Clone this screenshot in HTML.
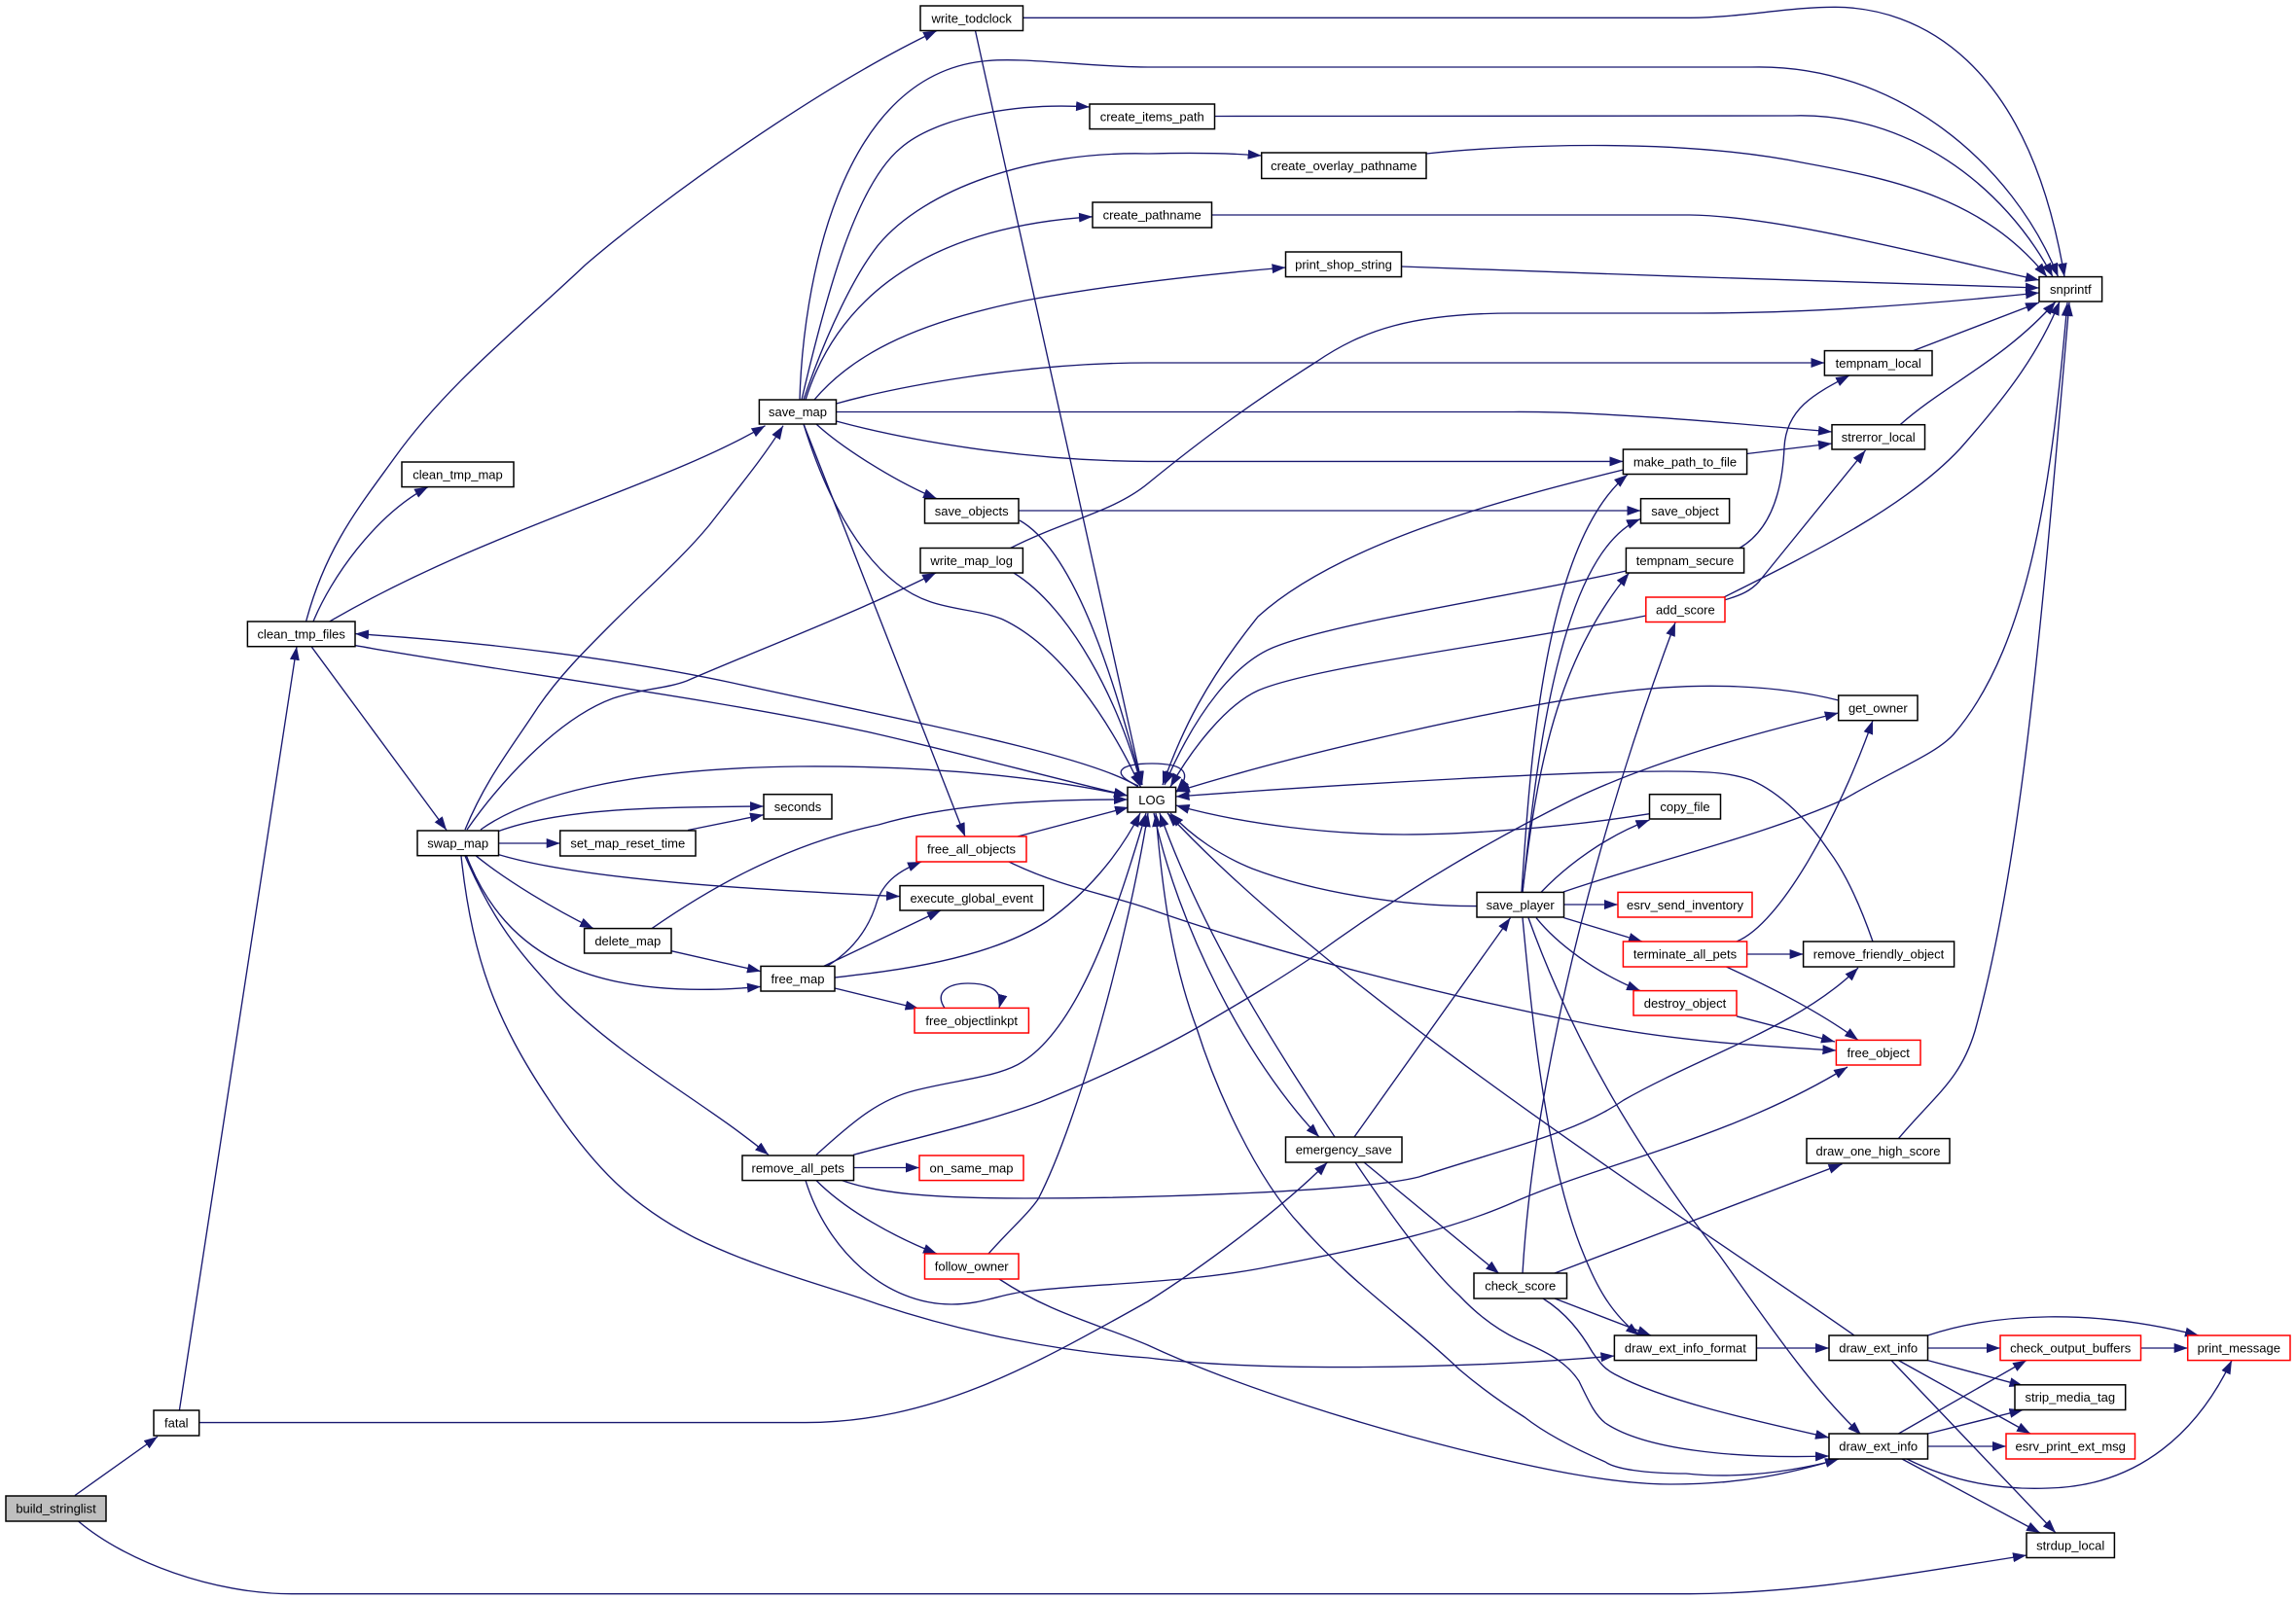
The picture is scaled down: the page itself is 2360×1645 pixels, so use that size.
<!DOCTYPE html>
<html><head><meta charset="utf-8"><style>
html,body{margin:0;padding:0;background:#fff}
svg{display:block}
.e path{fill:none;stroke:#191970;stroke-width:1.35;marker-end:url(#a)}
.n rect{fill:#fff;stroke:#000;stroke-width:1.5}
.r rect{fill:#fff;stroke:#f00;stroke-width:1.5}
text{font-family:"Liberation Sans",sans-serif;font-size:13px;fill:#000;text-anchor:middle}
</style></head><body>
<svg xmlns="http://www.w3.org/2000/svg" width="2360" height="1645" viewBox="0 0 2360 1645">
<defs><marker id="a" markerUnits="userSpaceOnUse" markerWidth="15" markerHeight="11" refX="14" refY="5" orient="auto"><path d="M0,0L14,5L0,10z" fill="#191970"/></marker></defs>
<g class="e">
<path d="M77,1537.5L162,1477"/>
<path d="M80.5,1564C130,1606 220,1638.7 300,1638.7L1737,1638.7C1850,1638 1950,1620 2083,1599"/>
<path d="M184.4,1450L305,664.7"/>
<path d="M204.7,1462.6L828,1462.6C960,1462 1060,1405 1180,1338C1240,1300 1320,1240 1364.4,1195"/>
<path d="M314.6,639C335,562 370,520 406,470C460,395 530,340 602,272C680,205 840,90 963,31.5"/>
<path d="M322,639C340,595 385,530 440,500.6"/>
<path d="M338.7,639C500,545 680,500 786.5,437.7"/>
<path d="M365,663.6C500,688 750,720 903,755C990,775 1090,802 1159,818"/>
<path d="M1170,809C1120,775 900,735 752.6,702C640,678 500,660 365,651.6"/>
<path d="M320,664.7L459,853.5"/>
<path d="M822,411C825,300 860,80 1010,63C1050,58 1120,69 1180,69L1800,69C1950,65 2070,170 2115.5,284.6"/>
<path d="M824,411C850,300 880,190 926,152C960,122 1040,105 1120,110"/>
<path d="M826,411C850,340 880,280 903,251.6C950,195 1060,155 1180,158C1220,157 1260,157 1296.7,160"/>
<path d="M828,411C855,325 930,235 1123,222.8"/>
<path d="M837,411C880,360 950,330 1053.6,309C1140,293 1240,282 1321.5,275"/>
<path d="M859.5,415C920,398 1050,373 1180,373L1875.4,373"/>
<path d="M859.5,423.5L1556,423.5C1650,423 1780,435 1883,444"/>
<path d="M859.5,433C930,452 1050,474 1180,474.4L1668.4,474.4"/>
<path d="M839,436C865,460 920,495 963,512.7"/>
<path d="M826,436C855,530 900,600 956,618.6C980,627 1010,628 1031,637C1090,665 1140,740 1172.6,809.4"/>
<path d="M826,436L992,860"/>
<path d="M1051,18.3L1737,18.3C1790,18 1840,7 1887,7.3C1970,8 2085,60 2122,284.6"/>
<path d="M1002.5,31.5L1174,807"/>
<path d="M1248.5,119.5L1842,119C1960,115 2060,190 2110,284.6"/>
<path d="M1466,158C1540,150 1720,140 1857,168C1950,185 2040,205 2104,284.6"/>
<path d="M1245.5,221L1737,221C1830,222 1990,265 2096,288"/>
<path d="M1440.4,274C1650,282 1900,290 2096,296"/>
<path d="M1038.6,563.5C1095,535 1145,526 1180,497C1240,448 1290,412 1353,372C1400,340 1450,322 1556,322L1744,322C1860,322 1980,313 2096,301"/>
<path d="M1042,589C1100,625 1150,720 1173,807"/>
<path d="M1047,525L1686.5,525"/>
<path d="M1048,535C1110,570 1150,720 1174,807"/>
<path d="M1966.5,360.6L2096,311"/>
<path d="M1788,563.5C1820,545 1832,505 1834,460C1836,420 1865,405 1901,386"/>
<path d="M1953,436.7C2000,395 2060,370 2113,310"/>
<path d="M1795.6,466.5L1883,456"/>
<path d="M1668.4,483C1560,510 1380,555 1293,634C1240,700 1215,750 1195,807"/>
<path d="M1671.4,587C1560,612 1370,640 1308,666C1270,682 1230,730 1197,807"/>
<path d="M1691.8,633C1560,660 1350,685 1293,710C1260,725 1225,770 1203,809"/>
<path d="M1772,617C1790,612 1800,607 1808,598L1917.5,463"/>
<path d="M1772,614C1870,565 1960,520 2015,461C2060,410 2095,365 2117,310"/>
<path d="M1889.7,720C1830,705 1750,700 1660,712C1560,725 1350,770 1209,814"/>
<path d="M1695.5,836.7C1600,852 1500,858 1443,858C1370,858 1280,848 1208.6,828"/>
<path d="M1925,968C1910,925 1895,895 1880,875C1860,845 1830,815 1800,802C1780,795 1760,793 1713,793C1620,793 1400,805 1208.6,819"/>
<path d="M1518,931.6C1440,932 1350,917 1287,893C1255,880 1225,860 1203,836"/>
<path d="M1607.5,930L1663,930"/>
<path d="M1584,917.4C1610,890 1650,860 1695.5,843"/>
<path d="M877,1187.4C940,1170 1010,1155 1069,1133C1130,1108 1180,1085 1230,1057C1290,1022 1310,1010 1352,982C1430,925 1520,870 1616.5,822C1700,782 1800,755 1889.7,733"/>
<path d="M1607,917C1700,885 1810,860 1895,822C1950,790 1990,775 2008,755C2090,660 2110,480 2125,311"/>
<path d="M1564,917C1572,800 1585,560 1673,488"/>
<path d="M1565,917C1578,800 1600,570 1686,533.6"/>
<path d="M1565,917C1580,790 1600,680 1674.5,589"/>
<path d="M1607.5,943.6L1688,968"/>
<path d="M1579,943.6C1600,970 1640,1000 1686,1018.6"/>
<path d="M1565,943.6C1575,1050 1590,1200 1628,1290C1640,1320 1655,1350 1685,1373"/>
<path d="M1571,943.6C1620,1080 1690,1190 1767,1290C1810,1350 1860,1425 1913,1475"/>
<path d="M1785,968C1830,950 1890,840 1925,740.7"/>
<path d="M1795.6,981L1853.6,981"/>
<path d="M1774.5,994C1820,1015 1870,1040 1910,1069.4"/>
<path d="M1785,1044.8L1886,1071"/>
<path d="M1046,860L1160,830"/>
<path d="M1037,886C1090,912 1140,920 1180,934C1270,966 1440,1015 1631.6,1052.6C1720,1070 1800,1075 1887.4,1080"/>
<path d="M478,853C500,800 525,770 553,727C575,695 600,670 630,640C665,605 700,575 729,540C760,500 785,470 805,437.7"/>
<path d="M480,853C510,810 570,740 630,718C660,708 685,708 706,700C780,668 880,630 962,589"/>
<path d="M494,853C540,820 640,790 821,788C950,787 1060,797 1159,818"/>
<path d="M512.5,854.5C580,830 680,830 785,829"/>
<path d="M512.5,867L575.7,867"/>
<path d="M707,853.5L785,837.7"/>
<path d="M512.5,878.6C600,905 780,915 925,921.6"/>
<path d="M489,879.7C520,905 570,935 610,954.6"/>
<path d="M479.4,879.7C520,985 610,1030 782,1014.4"/>
<path d="M478,880C510,955 540,985 572,1021C640,1090 720,1130 790,1187.4"/>
<path d="M474,880C485,985 510,1050 564.4,1131C610,1200 650,1240 715,1273C780,1305 850,1322 903,1341C990,1370 1090,1390 1180,1396C1290,1410 1500,1408 1659.4,1394"/>
<path d="M670,954.6C720,920 800,870 903,848C980,825 1080,822 1159,822"/>
<path d="M690,977.7L782,998.6"/>
<path d="M850,993.4C880,975 895,950 902,925C910,905 925,895 947,886"/>
<path d="M846.7,993.4L967,936"/>
<path d="M858,1005C900,1000 1010,990 1076.5,947C1115,920 1150,880 1172,836"/>
<path d="M858,1016L944.5,1037"/>
<path d="M971,1036.4C960,1020 975,1011 995,1011C1015,1011 1032,1017 1027,1036.4"/>
<path d="M839,1187.4C880,1150 905,1130 941,1121C985,1110 1020,1108 1046,1094.6C1110,1060 1150,930 1178,836"/>
<path d="M877.5,1200.5L945,1200.5"/>
<path d="M865.5,1213.6C900,1226 950,1232 1053.6,1232C1180,1232 1400,1225 1458.5,1210C1550,1180 1620,1165 1669,1131C1750,1085 1850,1055 1910,995"/>
<path d="M839,1213.6C870,1245 920,1272 963,1289"/>
<path d="M828,1213.6C850,1285 910,1341 978,1341C1010,1341 1030,1330 1053.6,1328C1110,1320 1220,1320 1308,1301.6C1420,1280 1490,1265 1556,1236C1650,1195 1780,1170 1899,1097"/>
<path d="M1016,1289C1040,1262 1055,1250 1067,1233C1110,1150 1160,960 1180,836"/>
<path d="M1027,1315C1080,1350 1125,1360 1180,1383C1270,1425 1400,1465 1500,1490C1590,1512 1660,1526 1717,1526C1790,1526 1840,1515 1890,1500"/>
<path d="M1186,836C1210,950 1280,1090 1356,1169"/>
<path d="M1372,1169C1320,1090 1240,970 1192,836"/>
<path d="M1880,1503C1830,1515 1780,1520 1733,1515C1690,1515 1660,1510 1650,1503C1620,1490 1590,1475 1567,1457C1540,1440 1520,1425 1500,1408C1450,1360 1390,1320 1337,1260C1290,1210 1250,1120 1230,1057C1205,990 1195,920 1188,836"/>
<path d="M1906,1373C1760,1270 1380,1030 1200,836"/>
<path d="M1393,1195C1430,1250 1470,1305 1500,1332C1515,1348 1535,1365 1560,1377C1590,1390 1610,1400 1623,1420C1635,1445 1640,1455 1650,1463C1690,1490 1780,1500 1880,1497"/>
<path d="M1586,1335C1610,1350 1625,1370 1636.7,1390C1645,1402 1650,1408 1660,1413C1710,1440 1800,1460 1880,1478"/>
<path d="M1598,1335L1697,1373"/>
<path d="M1402,1195L1541,1309.5"/>
<path d="M1392,1169L1552.5,943.6"/>
<path d="M1565,1309C1575,1140 1625,900 1722,640"/>
<path d="M1598,1309L1893.5,1196.8"/>
<path d="M1951.4,1170.6C1990,1125 2015,1110 2030,1060C2080,880 2100,620 2127,311"/>
<path d="M1805.4,1386L1880,1386"/>
<path d="M1981.5,1386L2056,1386"/>
<path d="M2200.5,1386L2248.7,1386"/>
<path d="M1981.5,1373C2050,1350 2150,1345 2260,1373"/>
<path d="M1981.5,1398.6L2079.5,1424.8"/>
<path d="M1951.4,1398.6L2087,1474"/>
<path d="M1944,1398.6L2113,1576"/>
<path d="M1951.4,1474L2083,1398.6"/>
<path d="M1981.5,1474L2079.5,1449.5"/>
<path d="M1981.5,1487L2062,1487"/>
<path d="M1960,1500C2010,1525 2060,1532 2105.7,1530C2200,1528 2260,1470 2294,1398.6"/>
<path d="M1955,1500L2097,1576"/>
<path d="M1170,808C1140,795 1150,785 1184,785C1218,785 1226,795 1209,814"/>
</g>
<g class="n">
<rect x="946" y="6" width="105.5" height="25.5"/><text x="998.7" y="23.5">write_todclock</text>
<rect x="1120" y="107" width="128.5" height="25.6"/><text x="1184.2" y="124.5">create_items_path</text>
<rect x="1296.7" y="157" width="169.3" height="26.5"/><text x="1381.3" y="175">create_overlay_pathname</text>
<rect x="1123" y="208" width="122.5" height="26"/><text x="1184.2" y="225.5">create_pathname</text>
<rect x="1321.5" y="259" width="119" height="25.6"/><text x="1381" y="276.5">print_shop_string</text>
<rect x="2096" y="284.6" width="64.6" height="25.4"/><text x="2128.3" y="302">snprintf</text>
<rect x="780.4" y="411" width="79.1" height="25"/><text x="820" y="428">save_map</text>
<rect x="413" y="475" width="115" height="25.6"/><text x="470.5" y="492.5">clean_tmp_map</text>
<rect x="254.4" y="639" width="110.6" height="25.7"/><text x="309.7" y="656.5">clean_tmp_files</text>
<rect x="950.5" y="512.7" width="96.5" height="25.3"/><text x="998.7" y="530">save_objects</text>
<rect x="946" y="563.5" width="105.4" height="25.5"/><text x="998.7" y="581">write_map_log</text>
<rect x="1875.4" y="360.6" width="110.6" height="25.4"/><text x="1930.7" y="378">tempnam_local</text>
<rect x="1883" y="436.7" width="95.5" height="25.3"/><text x="1930.7" y="454">strerror_local</text>
<rect x="1668.4" y="462" width="127.2" height="25.5"/><text x="1732" y="479.5">make_path_to_file</text>
<rect x="1686.5" y="512.7" width="91.1" height="25.3"/><text x="1732" y="530">save_object</text>
<rect x="1671.4" y="563.5" width="121.2" height="25.5"/><text x="1732" y="581">tempnam_secure</text>
<rect x="1889.7" y="715" width="81.3" height="25.7"/><text x="1930.3" y="732.5">get_owner</text>
<rect x="1159" y="809.4" width="49.6" height="25.6"/><text x="1184" y="827">LOG</text>
<rect x="1695.5" y="816.7" width="73" height="25.3"/><text x="1732" y="834">copy_file</text>
<rect x="785" y="816.7" width="70" height="25.3"/><text x="820" y="834">seconds</text>
<rect x="429" y="854" width="83.5" height="25.7"/><text x="470.7" y="871.5">swap_map</text>
<rect x="575.7" y="854" width="139.3" height="26"/><text x="645.3" y="871.5">set_map_reset_time</text>
<rect x="925" y="910.6" width="147.5" height="25.4"/><text x="998.7" y="928">execute_global_event</text>
<rect x="600.6" y="954.6" width="89.4" height="25.4"/><text x="645.3" y="972">delete_map</text>
<rect x="782" y="993.4" width="76" height="25.6"/><text x="820" y="1011">free_map</text>
<rect x="763" y="1188" width="114.5" height="25.6"/><text x="820.2" y="1205.5">remove_all_pets</text>
<rect x="158" y="1450" width="46.7" height="26"/><text x="181.3" y="1467.5">fatal</text>
<rect x="6" y="1538" width="103" height="26" style="fill:#bfbfbf"/><text x="57.5" y="1555.5">build_stringlist</text>
<rect x="1518" y="917.4" width="89.5" height="25.6"/><text x="1562.7" y="935">save_player</text>
<rect x="1853.6" y="968" width="155" height="26"/><text x="1931" y="985.5">remove_friendly_object</text>
<rect x="1321.5" y="1169" width="119.5" height="26"/><text x="1381.2" y="1186.5">emergency_save</text>
<rect x="1857" y="1170.6" width="147" height="25.4"/><text x="1930.5" y="1188">draw_one_high_score</text>
<rect x="1515" y="1309" width="95.5" height="26"/><text x="1562.7" y="1326.5">check_score</text>
<rect x="1659.4" y="1373" width="146" height="25.6"/><text x="1732.4" y="1390.5">draw_ext_info_format</text>
<rect x="1880" y="1373" width="101.5" height="25.6"/><text x="1930.7" y="1390.5">draw_ext_info</text>
<rect x="2071" y="1423.8" width="113.7" height="25.7"/><text x="2127.8" y="1441">strip_media_tag</text>
<rect x="1880" y="1474" width="101.5" height="26"/><text x="1930.7" y="1491.5">draw_ext_info</text>
<rect x="2083" y="1576" width="90.4" height="25.5"/><text x="2128.2" y="1593.5">strdup_local</text>
</g>
<g class="r">
<rect x="1691.8" y="614" width="81.2" height="25.5"/><text x="1732.4" y="631.5">add_score</text>
<rect x="942" y="860" width="113" height="26"/><text x="998.5" y="877.5">free_all_objects</text>
<rect x="940" y="1036.4" width="117.4" height="25.6"/><text x="998.7" y="1054">free_objectlinkpt</text>
<rect x="945" y="1188" width="107" height="25.6"/><text x="998.5" y="1205.5">on_same_map</text>
<rect x="950.5" y="1289" width="96.5" height="26"/><text x="998.7" y="1306.5">follow_owner</text>
<rect x="1663" y="917.4" width="138" height="25.6"/><text x="1732" y="935">esrv_send_inventory</text>
<rect x="1668.4" y="968" width="127.2" height="26"/><text x="1732" y="985.5">terminate_all_pets</text>
<rect x="1679" y="1018.6" width="106" height="25.4"/><text x="1732" y="1036">destroy_object</text>
<rect x="1887.4" y="1069.4" width="86.6" height="25.6"/><text x="1930.7" y="1087">free_object</text>
<rect x="2056" y="1373" width="144.5" height="25.6"/><text x="2128.2" y="1390.5">check_output_buffers</text>
<rect x="2248.7" y="1373" width="105.3" height="25.6"/><text x="2301.3" y="1390.5">print_message</text>
<rect x="2062" y="1474" width="132.5" height="26"/><text x="2128.2" y="1491.5">esrv_print_ext_msg</text>
</g>
</svg>
</body></html>
